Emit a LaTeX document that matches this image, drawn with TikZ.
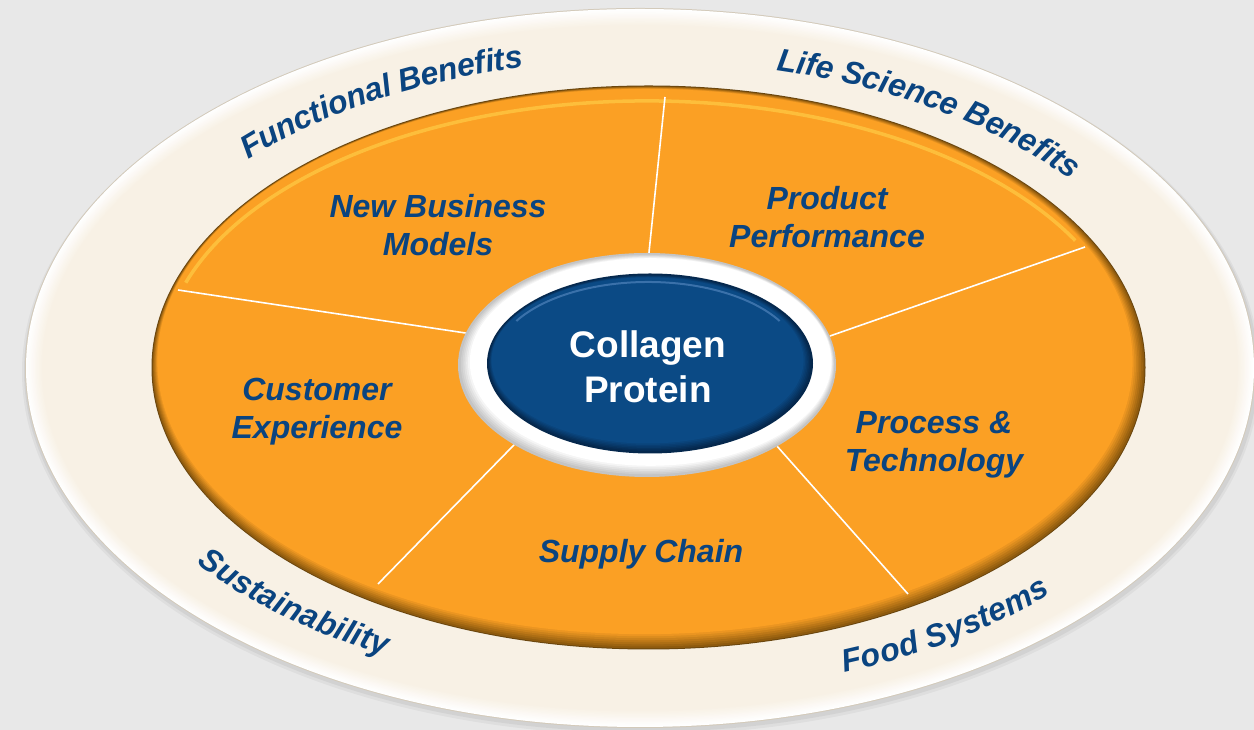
\documentclass[tikz,border=0pt]{standalone}
\usepackage{fontspec}
\setmainfont{Liberation Sans}
\usetikzlibrary{shapes.geometric,decorations.text}
\definecolor{bg}{HTML}{E8E8E8}
\definecolor{cream}{HTML}{F8F1E5}
\definecolor{rimline}{HTML}{D3CABA}
\definecolor{orng}{HTML}{FBA024}
\definecolor{brn}{HTML}{8E5A0E}
\definecolor{brndark}{HTML}{6A460E}
\definecolor{hilite}{HTML}{FFCB45}
\definecolor{navy}{HTML}{0B4A85}
\definecolor{navydark}{HTML}{05284D}
\definecolor{bluehi}{HTML}{5A8CC4}
\definecolor{txt}{HTML}{0A4480}
\definecolor{ringgray}{HTML}{C4C4C4}
\newcommand\segfont{\fontsize{32}{38}\selectfont\bfseries\itshape}
\newcommand\arcfont{\fontsize{32}{36}\selectfont\bfseries\itshape}
\begin{document}
\begin{tikzpicture}[x=1pt,y=1pt,
  seg/.style={text=txt, font=\segfont, align=center, inner sep=0pt},
  corelabel/.style={text=white, font=\fontsize{37}{45}\selectfont\bfseries, align=center, inner sep=0pt},
  spoke/.style={draw=white, line width=1.6pt},
  arclabel/.style={decorate, decoration={text along path, text={|\arcfont|#1}, text align=left, raise=-11pt, text color=txt}}
]
\useasboundingbox (0,0) rectangle (1254,730);
\clip (0,0) rectangle (1254,730);
\fill[bg] (0,0) rectangle (1254,730);

% outer ring: shadow, rim and cream body
\fill[black,opacity=0.04] (641,358) ellipse[x radius=619,y radius=363];
\fill[black,opacity=0.05] (641,359) ellipse[x radius=617,y radius=361];
\fill[rimline] (640,362) ellipse[x radius=615,y radius=360];
\foreach \k [evaluate=\k as \p using {int(min(100,\k*8))},
             evaluate=\k as \ra using {614-1.3*\k},
             evaluate=\k as \rb using {359-1.3*\k}] in {0,...,14}
  \fill[cream!\p!white] (640,362) ellipse[x radius=\ra, y radius=\rb];

% orange disc with bevel
\fill[brndark] (648.5,362.5) ellipse[x radius=497, y radius=282];
\foreach \k [evaluate=\k as \p using {int(\k*100/7)},
             evaluate=\k as \cx using {648.5-0.5*\k},
             evaluate=\k as \cy using {362.5+0.85*\k},
             evaluate=\k as \ra using {496-1.2*\k},
             evaluate=\k as \rb using {281-1.2*\k}] in {0,...,7}
  \fill[orng!\p!brn] (\cx,\cy) ellipse[x radius=\ra, y radius=\rb];
\draw[hilite, line width=3.5pt, opacity=.7] (647,366) ++(162:485 and 263) arc[start angle=162, end angle=28, x radius=485, y radius=263];

% centre ring as a node (for the spokes)
\path (647,365) node[ellipse, minimum width=378pt, minimum height=224pt, inner sep=0pt] (ring) {};
\coordinate (s1) at (665,633);
\coordinate (s2) at (178,440);
\coordinate (s3) at (1085,483);
\coordinate (s4) at (378,146);
\coordinate (s5) at (908,136);
\draw[spoke] (ring.89.5) -- (s1);
\draw[spoke] (ring.170.2) -- (s2);
\draw[spoke] (ring.9.8) -- (s3);
\draw[spoke] (ring.211.7) -- (s4);
\draw[spoke] (ring.328.5) -- (s5);

% white ring
\fill[ringgray] (647,365) ellipse[x radius=189, y radius=112];
\foreach \k [evaluate=\k as \p using {int(\k*100/6)},
             evaluate=\k as \cx using {647+0.6*\k},
             evaluate=\k as \cy using {365+0.5*\k},
             evaluate=\k as \ra using {188-1.2*\k},
             evaluate=\k as \rb using {111-1.2*\k}] in {0,...,6}
  \fill[white!\p!ringgray] (\cx,\cy) ellipse[x radius=\ra, y radius=\rb];

% blue core
\fill[navydark] (650,366.5) ellipse[x radius=163, y radius=90];
\foreach \k [evaluate=\k as \p using {int(\k*100/6)},
             evaluate=\k as \cx using {650-0.4*\k},
             evaluate=\k as \cy using {366.5+0.5*\k},
             evaluate=\k as \ra using {162-1*\k},
             evaluate=\k as \rb using {89-1*\k}] in {0,...,6}
  \fill[navy!\p!navydark] (\cx,\cy) ellipse[x radius=\ra, y radius=\rb];
\draw[bluehi, line width=2pt, opacity=.6] (648,370) ++(150:152 and 78) arc[start angle=150, end angle=30, x radius=152, y radius=78];
\node[corelabel] (core) at (648,363) {Collagen\\Protein};

% segment labels
\node[seg] (nbm) at (438,505) {New Business\\Models};
\node[seg] (pp)  at (827,513) {Product\\Performance};
\node[seg] (ce)  at (317,318) {Customer\\Experience};
\node[seg] (pt)  at (934,285) {Process \&\\Technology};
\node[seg] (sc)  at (641,176) {Supply Chain};

% curved outer labels
\path[arclabel={Functional Benefits}] (645,362) ++(137:550 and 320) arc[start angle=137, end angle=60, x radius=550, y radius=320];
\path[arclabel={Life Science Benefits}] (645,362) ++(76:550 and 318) arc[start angle=76, end angle=0, x radius=550, y radius=318];
\path[arclabel={Sustainability}] (645,362) ++(216.5:550 and 313) arc[start angle=216.5, end angle=300, x radius=550, y radius=313];
\path[arclabel={Food Systems}] (645,362) ++(291:550 and 315) arc[start angle=291, end angle=370, x radius=550, y radius=315];
\end{tikzpicture}
\end{document}
